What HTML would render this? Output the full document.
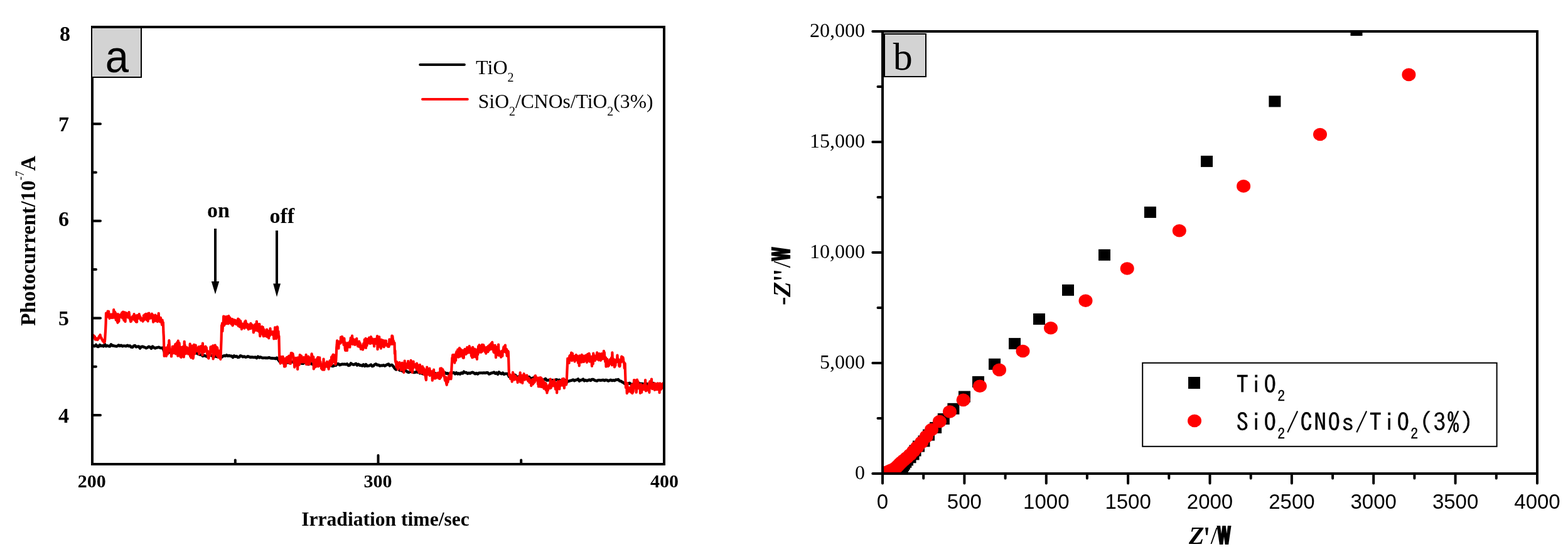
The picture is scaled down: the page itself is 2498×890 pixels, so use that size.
<!DOCTYPE html>
<html><head><meta charset="utf-8"><title>Photocurrent and EIS plots</title><style>
html,body{margin:0;padding:0;background:#fff;}
svg{display:block;}
.sb{font-family:"Liberation Serif",serif;font-weight:bold;}
.sr{font-family:"Liberation Serif",serif;}
.ss{font-family:"Liberation Sans",sans-serif;}
.ipa{font-family:"Liberation Sans","IPAGothic",sans-serif;}
</style></head><body>
<svg width="2498" height="890" viewBox="0 0 2498 890">
<rect width="2498" height="890" fill="#fff"/>
<!-- Panel A -->
<g>
<path d="M147 548.6 L148 549.8 L149 550.9 L150 551 L151 551.2 L152 550.1 L153 548.9 L154 550.3 L155 551.7 L156 551.9 L157 552 L158 550.6 L159 549.2 L160 550.1 L161 550.9 L162 550.6 L163 550.4 L164 550.9 L165 551.4 L166 549.8 L167 548.1 L168 549.7 L169 551.3 L170 550.8 L171 550.4 L172 550.7 L173 551.1 L174 551.2 L175 551.4 L176 549.9 L177 548.4 L178 549.4 L179 550.4 L180 550.4 L181 550.4 L182 550.7 L183 550.9 L184 551.1 L185 551.4 L186 551.2 L187 551 L188 550.2 L189 549.5 L190 550.2 L191 550.9 L192 550.3 L193 549.8 L194 550.5 L195 551.3 L196 550.9 L197 550.6 L198 550.7 L199 550.8 L200 551 L201 551.2 L202 550.5 L203 549.8 L204 550.5 L205 551.1 L206 550.8 L207 550.5 L208 551.5 L209 552.6 L210 552.8 L211 553 L212 551.9 L213 550.7 L214 550.4 L215 550.1 L216 551.3 L217 552.4 L218 552.1 L219 551.8 L220 551.7 L221 551.5 L222 553 L223 554.5 L224 553.4 L225 552.2 L226 551.9 L227 551.7 L228 552.1 L229 552.5 L230 552.8 L231 553.1 L232 553.7 L233 554.3 L234 553.8 L235 553.3 L236 552.6 L237 551.9 L238 552.3 L239 552.7 L240 553.7 L241 554.8 L242 553.2 L243 551.6 L244 552.4 L245 553.2 L246 553.8 L247 554.4 L248 554 L249 553.6 L250 553.4 L251 553.2 L252 553 L253 552.7 L254 553.2 L255 553.7 L256 553.9 L257 554.1 L258 553.9 L259 553.8 L260 555.2 L261 558.3 L262 560.4 L263 560.1 L264 560.6 L265 561.2 L266 560.7 L267 560.3 L268 560.7 L269 561.1 L270 560.6 L271 560.1 L272 561.1 L273 562.1 L274 562 L275 561.8 L276 561.6 L277 561.4 L278 560.7 L279 560 L280 560.6 L281 561.2 L282 559.8 L283 558.4 L284 559.5 L285 560.7 L286 560.9 L287 561.2 L288 560.7 L289 560.2 L290 560.7 L291 561.2 L292 561.4 L293 561.6 L294 562.1 L295 562.6 L296 561.8 L297 561 L298 560.3 L299 559.6 L300 559.2 L301 558.9 L302 559.9 L303 560.9 L304 561.3 L305 561.9 L306 562.3 L307 562.6 L308 562.4 L309 562.1 L310 562 L311 561.9 L312 562.1 L313 562.3 L314 562.8 L315 563.3 L316 563.6 L317 563.9 L318 564.4 L319 564.8 L320 564.8 L321 564.9 L322 565.9 L323 567 L324 566.4 L325 565.8 L326 566.2 L327 566.6 L328 567 L329 567.5 L330 567.7 L331 567.9 L332 567.2 L333 566.4 L334 566 L335 565.6 L336 565.7 L337 565.8 L338 566.6 L339 567.4 L340 567.5 L341 567.6 L342 567.4 L343 567.3 L344 567.5 L345 567.7 L346 568 L347 568.2 L348 567.2 L349 566.1 L350 567.5 L351 568.9 L352 568.9 L353 568.8 L354 567.9 L355 567.1 L356 566.7 L357 566.3 L358 566.6 L359 566.8 L360 566.1 L361 565.4 L362 566.1 L363 566.8 L364 566.5 L365 566.1 L366 566.5 L367 566.9 L368 566.8 L369 566.8 L370 567.9 L371 569 L372 567.8 L373 566.5 L374 567.1 L375 567.7 L376 567.4 L377 567.1 L378 568.1 L379 569 L380 568.8 L381 568.6 L382 567.5 L383 566.4 L384 566.7 L385 567 L386 567.6 L387 568.2 L388 567.9 L389 567.5 L390 568 L391 568.6 L392 568.5 L393 568.3 L394 567.9 L395 567.4 L396 567.8 L397 568.1 L398 568.5 L399 568.9 L400 568.7 L401 568.5 L402 568.6 L403 568.7 L404 568.9 L405 569 L406 568.8 L407 568.6 L408 569.3 L409 570 L410 568.9 L411 567.7 L412 568.5 L413 569.4 L414 568.9 L415 568.5 L416 569 L417 569.4 L418 569.7 L419 569.9 L420 569.8 L421 569.8 L422 569.8 L423 569.9 L424 569.9 L425 570 L426 569.9 L427 569.9 L428 569.5 L429 569.2 L430 569.7 L431 570.2 L432 570.3 L433 570.5 L434 570.4 L435 570.5 L436 570.5 L437 570.5 L438 570.8 L439 571.1 L440 570.4 L441 569.7 L442 570.9 L443 572.4 L444 573.7 L445 575 L446 576.1 L447 576.7 L448 576.9 L449 577 L450 576.6 L451 576.2 L452 575.7 L453 575.2 L454 576 L455 576.8 L456 577.1 L457 577.4 L458 577.4 L459 577.3 L460 576.7 L461 576.2 L462 576.1 L463 575.9 L464 576.1 L465 576.2 L466 576.2 L467 576.2 L468 577.2 L469 578.2 L470 578 L471 577.7 L472 578.7 L473 579.6 L474 579.4 L475 579.2 L476 579 L477 578.8 L478 578.1 L479 577.4 L480 578.1 L481 578.7 L482 578.7 L483 578.7 L484 577.9 L485 577.2 L486 577.3 L487 577.5 L488 577.8 L489 578.2 L490 579.2 L491 580.2 L492 579.5 L493 578.9 L494 578.5 L495 578.2 L496 579 L497 579.7 L498 580.1 L499 580.4 L500 579.7 L501 579 L502 580.5 L503 582 L504 580.9 L505 579.8 L506 580.7 L507 581.6 L508 581.6 L509 581.5 L510 580.9 L511 580.4 L512 580.8 L513 581.2 L514 581.3 L515 581.5 L516 581.4 L517 581.4 L518 582 L519 582.6 L520 582.4 L521 582.1 L522 581.4 L523 580.7 L524 581.7 L525 582.6 L526 582.1 L527 581.7 L528 582.2 L529 582.7 L530 583 L531 582.8 L532 582.2 L533 581.6 L534 581.7 L535 581.8 L536 580.8 L537 579.9 L538 579.3 L539 579.2 L540 580.2 L541 581.2 L542 580.9 L543 580.5 L544 580.1 L545 579.8 L546 579.9 L547 580 L548 579.9 L549 579.7 L550 580 L551 580.2 L552 579.8 L553 579.4 L554 580.7 L555 581.9 L556 581.7 L557 581.5 L558 580 L559 578.5 L560 579.1 L561 579.7 L562 580.2 L563 580.6 L564 580.4 L565 580.2 L566 579.5 L567 578.9 L568 580.2 L569 581.5 L570 580.7 L571 579.9 L572 580.7 L573 581.6 L574 581.6 L575 581.5 L576 582 L577 582.5 L578 581.5 L579 580.4 L580 581.7 L581 582.9 L582 581.6 L583 580.2 L584 581.5 L585 582.8 L586 582.6 L587 582.4 L588 582.2 L589 581.9 L590 581.3 L591 580.6 L592 581.9 L593 583.1 L594 582.8 L595 582.5 L596 581.4 L597 580.3 L598 579.9 L599 579.5 L600 580.3 L601 581.2 L602 581.1 L603 581 L604 581.7 L605 582.5 L606 582.2 L607 581.9 L608 582 L609 582.1 L610 581.7 L611 581.3 L612 582 L613 582.7 L614 582 L615 581.3 L616 580.9 L617 580.4 L618 580 L619 579.6 L620 581 L621 582.3 L622 581.8 L623 581.3 L624 581 L625 581.4 L626 582.6 L627 583.8 L628 585.2 L629 586.7 L630 587.7 L631 588.4 L632 587.3 L633 586.2 L634 587.2 L635 588.2 L636 588.9 L637 589.6 L638 589.7 L639 589.8 L640 590.2 L641 590.5 L642 591.2 L643 592 L644 590.9 L645 589.8 L646 590.1 L647 590.4 L648 591.3 L649 592.1 L650 592.5 L651 592.9 L652 592.4 L653 592 L654 591.8 L655 591.6 L656 591.4 L657 591.1 L658 592.1 L659 593 L660 593 L661 593 L662 592.5 L663 592 L664 592.3 L665 592.7 L666 592.6 L667 592.5 L668 593.4 L669 594.2 L670 593.9 L671 593.6 L672 594.3 L673 595 L674 595.1 L675 595.2 L676 594.8 L677 594.4 L678 594.8 L679 595.2 L680 595.2 L681 595.2 L682 595.5 L683 595.7 L684 594.9 L685 594 L686 594.6 L687 595.1 L688 595.7 L689 596.3 L690 595.8 L691 595.4 L692 594.9 L693 594.4 L694 594.7 L695 595 L696 595.9 L697 596.9 L698 595.6 L699 594.4 L700 594.3 L701 594.2 L702 594.9 L703 595.6 L704 595 L705 594.4 L706 593.9 L707 593.4 L708 593.4 L709 593.3 L710 594.1 L711 594.8 L712 594.5 L713 594.2 L714 595.1 L715 596 L716 595.1 L717 594.1 L718 593.7 L719 593.3 L720 593.5 L721 593.7 L722 593.5 L723 593.2 L724 594.2 L725 595.3 L726 594.4 L727 593.4 L728 594.4 L729 595.4 L730 594.9 L731 594.4 L732 595.1 L733 595.7 L734 594.7 L735 593.6 L736 594 L737 594.5 L738 593.2 L739 591.8 L740 592.6 L741 593.3 L742 593.2 L743 593.1 L744 594 L745 594.9 L746 594.3 L747 593.8 L748 594.1 L749 594.5 L750 593.9 L751 593.3 L752 593 L753 592.8 L754 593.4 L755 593.9 L756 594.6 L757 595.2 L758 594.6 L759 594 L760 594.8 L761 595.5 L762 594.7 L763 593.8 L764 593.8 L765 593.8 L766 593.8 L767 593.8 L768 593.8 L769 593.9 L770 593.7 L771 593.5 L772 593.7 L773 593.9 L774 593.6 L775 593.4 L776 593.3 L777 593.2 L778 594.3 L779 595.5 L780 595.2 L781 594.9 L782 594.4 L783 593.8 L784 593.7 L785 593.5 L786 593.1 L787 592.7 L788 593.6 L789 594.6 L790 594.1 L791 593.5 L792 594.7 L793 595.9 L794 594.2 L795 592.5 L796 593.5 L797 594.4 L798 594.8 L799 595.2 L800 594.4 L801 593.6 L802 594.8 L803 596 L804 595.5 L805 595 L806 595 L807 595 L808 595 L809 595.4 L810 597.6 L811 599.6 L812 599.6 L813 599.7 L814 599.3 L815 599 L816 599.8 L817 600.6 L818 600 L819 599.4 L820 598.3 L821 597.2 L822 598.4 L823 599.7 L824 600.4 L825 601.1 L826 600.1 L827 599.1 L828 599.8 L829 600.4 L830 599.9 L831 599.4 L832 599.8 L833 600.3 L834 599.2 L835 598.1 L836 598.6 L837 599.2 L838 600 L839 600.9 L840 600.9 L841 600.9 L842 600.5 L843 600 L844 601.3 L845 602.7 L846 602.6 L847 602.6 L848 602.2 L849 601.8 L850 601.4 L851 601 L852 602.4 L853 603.7 L854 603.3 L855 602.9 L856 603.6 L857 604.2 L858 604.5 L859 604.8 L860 604.2 L861 603.6 L862 603.8 L863 604 L864 604.5 L865 605.1 L866 604.7 L867 604.3 L868 603.6 L869 603 L870 604.2 L871 605.5 L872 605.5 L873 605.5 L874 605.2 L875 604.8 L876 605.4 L877 605.9 L878 605.6 L879 605.2 L880 605.2 L881 605.3 L882 605.9 L883 606.5 L884 605.5 L885 604.6 L886 604.5 L887 604.4 L888 605.2 L889 605.9 L890 605.4 L891 604.9 L892 606 L893 607 L894 606.3 L895 605.6 L896 605.2 L897 604.8 L898 605.7 L899 606.6 L900 606.1 L901 605.5 L902 607.5 L903 608.8 L904 607.8 L905 606.7 L906 606.7 L907 606.6 L908 606.2 L909 605.9 L910 605.7 L911 605.6 L912 605 L913 604.5 L914 605.3 L915 606.1 L916 605.6 L917 605.1 L918 604.9 L919 604.7 L920 604.1 L921 603.5 L922 605.1 L923 606.6 L924 605.9 L925 605.2 L926 605.1 L927 605 L928 604.4 L929 603.7 L930 605 L931 606.3 L932 605.8 L933 605.3 L934 605.8 L935 606.3 L936 605.9 L937 605.4 L938 605 L939 604.6 L940 605.3 L941 605.9 L942 605 L943 604 L944 604 L945 604 L946 604.7 L947 605.4 L948 605.7 L949 606.1 L950 606.3 L951 606.4 L952 605.9 L953 605.3 L954 605.3 L955 605.3 L956 605.5 L957 605.6 L958 605.4 L959 605.2 L960 605.1 L961 605 L962 605.4 L963 605.9 L964 605.4 L965 605 L966 605.1 L967 605.2 L968 605.9 L969 606.5 L970 606.1 L971 605.6 L972 605.3 L973 604.9 L974 605.5 L975 606 L976 605.7 L977 605.3 L978 605.7 L979 606 L980 605.3 L981 604.6 L982 604.7 L983 604.7 L984 604.4 L985 604.1 L986 605.3 L987 606.4 L988 606.6 L989 606.7 L990 607.4 L991 608.2 L992 608.6 L993 609.1 L994 609.8 L995 610.6 L996 610.4 L997 610.3 L998 610.7 L999 611.1 L1000 610.8 L1001 610.5 L1002 610.2 L1003 609.9 L1004 610.8 L1005 611.8 L1006 611.8 L1007 611.8 L1008 611.7 L1009 611.6 L1010 611.3 L1011 611.1 L1012 611 L1013 610.9 L1014 611.2 L1015 611.5 L1016 611.6 L1017 611.7 L1018 611.1 L1019 610.5 L1020 610.9 L1021 611.2 L1022 611 L1023 610.8 L1024 611.8 L1025 612.8 L1026 611.7 L1027 610.6 L1028 610.7 L1029 610.8 L1030 611 L1031 611.2 L1032 611.7 L1033 612.2 L1034 611.8 L1035 611.3 L1036 612.6 L1037 613.8 L1038 613.4 L1039 613 L1040 611.6 L1041 610.2 L1042 611.4 L1043 612.7 L1044 612.8 L1045 612.9 L1046 612.2 L1047 611.5 L1048 612 L1049 612.6 L1050 612.7 L1051 612.8 L1052 612.6 L1053 612.3 L1054 612.5 L1055 612.8 L1056 613.1 L1057 613.3" fill="none" stroke="#000" stroke-width="4.6" stroke-linejoin="round"/>
<path d="M147 533 L147.4 534.7 L147.9 534.9 L148.3 533.5 L148.8 534.1 L149.2 534.3 L149.7 535.7 L150.1 535.7 L150.6 537.5 L151 535.9 L151.5 540.3 L151.9 539.6 L152.4 540.5 L152.8 538.2 L153.3 539.5 L153.7 540.3 L154.2 540.8 L154.6 539.9 L155.1 540.1 L155.5 541 L156 539.6 L156.4 538.2 L156.9 539.4 L157.3 537.6 L157.8 535.6 L158.2 536 L158.7 535.7 L159.1 534.2 L159.6 533.2 L160 535.7 L160.5 537.5 L160.9 537.3 L161.4 537.5 L161.8 539.4 L162.3 540.4 L162.7 540.1 L163.2 541.6 L163.6 542.8 L164.1 542.3 L164.5 542.4 L165 544 L165.4 544.2 L165.9 545.4 L166.3 543.3 L166.8 544.2 L167.2 540.6 L167.7 531.9 L168.1 526 L168.6 514.6 L169 498.7 L169.5 506.1 L169.9 503.9 L170.4 502.9 L170.8 501.9 L171.3 503.7 L171.7 495.7 L172.2 503.3 L172.6 503.8 L173.1 495.9 L173.5 504.1 L174 502.6 L174.4 506.9 L174.9 503.1 L175.3 504.5 L175.8 505.4 L176.2 500.7 L176.7 505.7 L177.1 502.8 L177.6 504.6 L178 500.6 L178.5 506 L178.9 503.7 L179.4 500.3 L179.8 502.7 L180.3 504.4 L180.7 505.7 L181.2 493.1 L181.6 501.3 L182.1 499.6 L182.5 498.8 L183 496.6 L183.4 505.9 L183.9 498 L184.3 505.7 L184.8 509.5 L185.2 500.2 L185.7 505.5 L186.1 501.8 L186.6 507.4 L187 512 L187.5 513.8 L187.9 500.1 L188.4 504.4 L188.8 509 L189.3 511.8 L189.7 507.2 L190.2 502.6 L190.6 505.9 L191.1 504.3 L191.5 503.2 L192 500.9 L192.4 504.5 L192.9 504 L193.3 502.4 L193.8 501.8 L194.2 497.8 L194.7 501.4 L195.1 506.5 L195.6 501.3 L196 496.7 L196.5 506.8 L196.9 504 L197.4 509.8 L197.8 502.6 L198.3 500.8 L198.7 497.4 L199.2 507.5 L199.6 512 L200.1 499.4 L200.5 499.7 L201 501.7 L201.4 498.4 L201.9 500 L202.3 499.4 L202.8 501 L203.2 504.6 L203.7 501.5 L204.1 505.6 L204.6 501.6 L205 505.2 L205.5 497.1 L205.9 500.4 L206.4 503.2 L206.8 504.7 L207.3 509.1 L207.7 509.1 L208.2 512.1 L208.6 510.5 L209.1 511.4 L209.5 507.5 L210 505.6 L210.4 505.4 L210.9 506.1 L211.3 503.7 L211.8 505.7 L212.2 507.2 L212.7 508.3 L213.1 506.1 L213.6 500.2 L214 506.6 L214.5 507.4 L214.9 510.1 L215.4 508 L215.8 503.3 L216.3 502.7 L216.7 512.3 L217.2 507.6 L217.6 511.5 L218.1 512.6 L218.5 502 L219 506.4 L219.4 506.7 L219.9 507.1 L220.3 507 L220.8 505.9 L221.2 506 L221.7 500.1 L222.1 505.1 L222.6 503.1 L223 506.4 L223.5 504.4 L223.9 508.5 L224.4 509.7 L224.8 508.4 L225.3 508.9 L225.7 508.7 L226.2 507.2 L226.6 508.8 L227.1 508.1 L227.5 511.6 L228 509.3 L228.4 510.3 L228.9 502.4 L229.3 509.4 L229.8 502.4 L230.2 501.5 L230.7 502.5 L231.1 500.6 L231.6 504.1 L232 501.3 L232.5 499.9 L232.9 501.1 L233.4 509.2 L233.8 505.1 L234.3 501.1 L234.7 505.4 L235.2 499.5 L235.6 511.3 L236.1 499.2 L236.5 506.1 L237 506.2 L237.4 498.7 L237.9 504.8 L238.3 507.2 L238.8 505.1 L239.2 504.2 L239.7 506.5 L240.1 503.5 L240.6 504 L241 502.1 L241.5 504.7 L241.9 499.7 L242.4 506.7 L242.8 502.7 L243.3 501.3 L243.7 507.2 L244.2 512.7 L244.6 510.8 L245.1 506.1 L245.5 510.8 L246 507.1 L246.4 508.7 L246.9 509.8 L247.3 501.5 L247.8 510.9 L248.2 506.9 L248.7 508 L249.1 505.6 L249.6 503.3 L250 504.5 L250.5 510 L250.9 512.2 L251.4 505.2 L251.8 508.4 L252.3 503.8 L252.7 498.8 L253.2 507.1 L253.6 509.1 L254.1 506.9 L254.5 510.4 L255 512.3 L255.4 508.1 L255.9 505.9 L256.3 510.4 L256.8 510.4 L257.2 509.8 L257.7 514.6 L258.1 517.2 L258.6 509.5 L259 513.5 L259.5 514.3 L259.9 513.5 L260.4 529 L260.8 535.3 L261.3 554.5 L261.7 566.9 L262.2 560.7 L262.6 553.6 L263.1 560.3 L263.5 564.1 L264 560.1 L264.4 557.2 L264.9 567 L265.3 553.6 L265.8 562.9 L266.2 559.9 L266.7 552.8 L267.1 563.7 L267.6 558.2 L268 549.4 L268.5 557.1 L268.9 550.8 L269.4 542.2 L269.8 549.1 L270.3 555.1 L270.7 558.3 L271.2 557.3 L271.6 558 L272.1 561.4 L272.5 559.4 L273 567.5 L273.4 561.3 L273.9 560.9 L274.3 561 L274.8 551.9 L275.2 552.5 L275.7 562.5 L276.1 555.4 L276.6 551.5 L277 555.2 L277.5 551.6 L277.9 555.9 L278.4 551.7 L278.8 556.9 L279.3 548.2 L279.7 563.3 L280.2 553.8 L280.6 547.4 L281.1 553 L281.5 551.1 L282 552.6 L282.4 545 L282.9 551.6 L283.3 566.6 L283.8 542.7 L284.2 552.4 L284.7 550.7 L285.1 554.7 L285.6 546.2 L286 551.1 L286.5 560.7 L286.9 559.7 L287.4 567.8 L287.8 555.7 L288.3 559.6 L288.7 569 L289.2 553.9 L289.6 552.8 L290.1 556.7 L290.5 556.2 L291 560.3 L291.4 556.5 L291.9 551.8 L292.3 556.4 L292.8 568.3 L293.2 561.2 L293.7 543.9 L294.1 553.6 L294.6 549.7 L295 557 L295.5 552.8 L295.9 563.2 L296.4 558 L296.8 557.6 L297.3 553.9 L297.7 553.1 L298.2 555.8 L298.6 561.4 L299.1 558.4 L299.5 554.7 L300 563.6 L300.4 559 L300.9 558.4 L301.3 555.5 L301.8 557.3 L302.2 557.7 L302.7 547.6 L303.1 567.3 L303.6 565.7 L304 562.5 L304.5 569.5 L304.9 566 L305.4 565.3 L305.8 550.6 L306.3 561.4 L306.7 564.8 L307.2 569.7 L307.6 570.5 L308.1 568 L308.5 554.5 L309 548.9 L309.4 562.3 L309.9 559.1 L310.3 563.3 L310.8 557.4 L311.2 558.6 L311.7 549.7 L312.1 559.2 L312.6 554.5 L313 558.3 L313.5 558.6 L313.9 555.5 L314.4 557.5 L314.8 555.6 L315.3 559.3 L315.7 557.9 L316.2 552.5 L316.6 552.2 L317.1 563.7 L317.5 554.4 L318 559.7 L318.4 556.6 L318.9 552.2 L319.3 551.7 L319.8 556.5 L320.2 557.6 L320.7 559.8 L321.1 550.8 L321.6 554.6 L322 557.4 L322.5 565.1 L322.9 546.5 L323.4 557.8 L323.8 552.2 L324.3 556.3 L324.7 553.8 L325.2 554.5 L325.6 560.3 L326.1 554.9 L326.5 556 L327 556.4 L327.4 551.5 L327.9 558.7 L328.3 555.7 L328.8 553.4 L329.2 558 L329.7 557.9 L330.1 563.7 L330.6 560.5 L331 559 L331.5 569.7 L331.9 568.3 L332.4 570.5 L332.8 566.9 L333.3 562.6 L333.7 560.4 L334.2 560.4 L334.6 565.9 L335.1 561 L335.5 552.4 L336 558.9 L336.4 552 L336.9 559.9 L337.3 553 L337.8 556.4 L338.2 559.5 L338.7 558.4 L339.1 550.4 L339.6 571.5 L340 569.2 L340.5 550.7 L340.9 567 L341.4 554.2 L341.8 554.9 L342.3 556.2 L342.7 549.6 L343.2 563.5 L343.6 560.3 L344.1 554.8 L344.5 557.9 L345 552.5 L345.4 559.1 L345.9 566.3 L346.3 553.8 L346.8 560.4 L347.2 563.3 L347.7 567.7 L348.1 569.2 L348.6 560.1 L349 558.6 L349.5 564.6 L349.9 560.4 L350.4 559.9 L350.8 568.5 L351.3 572 L351.7 565.4 L352.2 550.9 L352.6 540.9 L353.1 518.1 L353.5 519.8 L354 514.6 L354.4 527.3 L354.9 519.6 L355.3 516.2 L355.8 513.8 L356.2 503.5 L356.7 515.3 L357.1 518.2 L357.6 508.5 L358 513.8 L358.5 513.7 L358.9 504.4 L359.4 514 L359.8 515.4 L360.3 510.7 L360.7 509.5 L361.2 513.2 L361.6 504.1 L362.1 510.9 L362.5 515 L363 506.1 L363.4 515.3 L363.9 509.9 L364.3 503.1 L364.8 510.8 L365.2 507 L365.7 511.9 L366.1 505.7 L366.6 514.3 L367 506.9 L367.5 511 L367.9 507.8 L368.4 509.5 L368.8 516.1 L369.3 512.8 L369.7 510.9 L370.2 508.1 L370.6 518.3 L371.1 517 L371.5 512.6 L372 514.7 L372.4 509.5 L372.9 509.4 L373.3 510 L373.8 514.6 L374.2 514.2 L374.7 509.9 L375.1 515.6 L375.6 515.7 L376 513 L376.5 516.3 L376.9 510.9 L377.4 511.4 L377.8 513.6 L378.3 511.7 L378.7 515.5 L379.2 507.7 L379.6 518.8 L380.1 510.4 L380.5 513.2 L381 508.8 L381.4 517.2 L381.9 520.5 L382.3 520.3 L382.8 520 L383.2 511 L383.7 514.7 L384.1 516.6 L384.6 515.3 L385 524.1 L385.5 520.3 L385.9 519.5 L386.4 521.5 L386.8 515.7 L387.3 515.9 L387.7 516 L388.2 521.5 L388.6 520.7 L389.1 521.1 L389.5 522.6 L390 512.4 L390.4 515.1 L390.9 517.4 L391.3 510.9 L391.8 513.7 L392.2 519.9 L392.7 520.7 L393.1 521 L393.6 517.3 L394 516 L394.5 522.3 L394.9 516.9 L395.4 520.2 L395.8 524.4 L396.3 517.9 L396.7 517.2 L397.2 519.8 L397.6 522.5 L398.1 522.3 L398.5 521.2 L399 523.1 L399.4 514.8 L399.9 518 L400.3 522.4 L400.8 518.3 L401.2 517 L401.7 517.9 L402.1 519.4 L402.6 522.6 L403 519 L403.5 523.7 L403.9 529.3 L404.4 521.7 L404.8 527.1 L405.3 526.7 L405.7 517 L406.2 520.2 L406.6 517.1 L407.1 523.9 L407.5 516 L408 525.7 L408.4 522.5 L408.9 511.8 L409.3 522.8 L409.8 526.5 L410.2 518.1 L410.7 526.1 L411.1 516 L411.6 525.1 L412 518.4 L412.5 528 L412.9 519.9 L413.4 516.2 L413.8 528 L414.3 535.1 L414.7 523.2 L415.2 528.5 L415.6 525.2 L416.1 523.1 L416.5 526.5 L417 531.1 L417.4 520.1 L417.9 527.8 L418.3 527.4 L418.8 520.8 L419.2 533.5 L419.7 535.3 L420.1 524.1 L420.6 535.1 L421 528.7 L421.5 528 L421.9 534.7 L422.4 529.7 L422.8 530.1 L423.3 535 L423.7 534.4 L424.2 533.4 L424.6 524.8 L425.1 524.7 L425.5 536.1 L426 528.5 L426.4 533.3 L426.9 529 L427.3 532.2 L427.8 527.2 L428.2 538.3 L428.7 527 L429.1 530 L429.6 529.1 L430 534.1 L430.5 523 L430.9 528.9 L431.4 528.5 L431.8 531.7 L432.3 531.8 L432.7 528.4 L433.2 531.6 L433.6 529.4 L434.1 533 L434.5 530.6 L435 528.2 L435.4 530.6 L435.9 532 L436.3 539.5 L436.8 528.3 L437.2 531.3 L437.7 535.8 L438.1 521.4 L438.6 522.8 L439 524.8 L439.5 529 L439.9 539.1 L440.4 530.8 L440.8 533.9 L441.3 528.6 L441.7 520.3 L442.2 521.5 L442.6 535.5 L443.1 532.8 L443.5 527.5 L444 537.8 L444.4 535.1 L444.9 558.5 L445.3 573 L445.8 573 L446.2 570.9 L446.7 578.6 L447.1 569.6 L447.6 577.4 L448 568 L448.5 577.1 L448.9 574.5 L449.4 572.7 L449.8 571.1 L450.3 576.5 L450.7 567.8 L451.2 575.2 L451.6 575 L452.1 579.5 L452.5 571.1 L453 583.7 L453.4 574.9 L453.9 571.3 L454.3 582.1 L454.8 583.2 L455.2 574.6 L455.7 570.5 L456.1 573.3 L456.6 569.2 L457 569.8 L457.5 576.8 L457.9 570.7 L458.4 568.6 L458.8 569.3 L459.3 567.6 L459.7 571.6 L460.2 571.9 L460.6 566.6 L461.1 568.7 L461.5 578.7 L462 570.3 L462.4 566.9 L462.9 578.9 L463.3 566.3 L463.8 562 L464.2 567.6 L464.7 562 L465.1 562 L465.6 564.4 L466 564.2 L466.5 563.2 L466.9 565.8 L467.4 567.3 L467.8 576.6 L468.3 570.2 L468.7 572.6 L469.2 584.7 L469.6 573.6 L470.1 582.4 L470.5 581.6 L471 575.2 L471.4 569.8 L471.9 577.8 L472.3 578.7 L472.8 579.7 L473.2 575.5 L473.7 579.9 L474.1 587.9 L474.6 569.4 L475 579.7 L475.5 573.9 L475.9 570.3 L476.4 571.3 L476.8 580.8 L477.3 576.9 L477.7 565 L478.2 573 L478.6 572.1 L479.1 571.9 L479.5 570.5 L480 566.5 L480.4 576.6 L480.9 568.9 L481.3 571.5 L481.8 570.6 L482.2 570.1 L482.7 576.5 L483.1 575 L483.6 570.3 L484 569 L484.5 570.8 L484.9 576.9 L485.4 573.1 L485.8 573.4 L486.3 570.8 L486.7 571.2 L487.2 573.5 L487.6 564.9 L488.1 580.1 L488.5 570.1 L489 571.3 L489.4 579.8 L489.9 575.3 L490.3 574.5 L490.8 571.8 L491.2 567.6 L491.7 575.1 L492.1 579.5 L492.6 570.5 L493 580.2 L493.5 569.5 L493.9 570.7 L494.4 575.6 L494.8 573 L495.3 570.5 L495.7 569 L496.2 567.3 L496.6 563.3 L497.1 566 L497.5 567.7 L498 567.4 L498.4 576 L498.9 572.9 L499.3 568.4 L499.8 587.5 L500.2 575.6 L500.7 574.4 L501.1 585 L501.6 584.5 L502 574.4 L502.5 572.8 L502.9 574.7 L503.4 583.6 L503.8 577.3 L504.3 574.6 L504.7 577.3 L505.2 581.9 L505.6 570.1 L506.1 573.8 L506.5 568.8 L507 583.4 L507.4 581.2 L507.9 578.3 L508.3 575.3 L508.8 580 L509.2 569.4 L509.7 581 L510.1 575.3 L510.6 576.7 L511 580.6 L511.5 582.3 L511.9 586.4 L512.4 587.1 L512.8 585.4 L513.3 582.9 L513.7 588.5 L514.2 584.3 L514.6 588.6 L515.1 580.2 L515.5 571.7 L516 581 L516.4 588.7 L516.9 583.9 L517.3 580.5 L517.8 584.6 L518.2 582.7 L518.7 582.5 L519.1 578.3 L519.6 580.9 L520 581.4 L520.5 577.8 L520.9 575.8 L521.4 581.2 L521.8 584.1 L522.3 581.9 L522.7 580.3 L523.2 579.5 L523.6 587.6 L524.1 576.8 L524.5 579.3 L525 582.4 L525.4 574.3 L525.9 575.4 L526.3 578.9 L526.8 581.9 L527.2 576.1 L527.7 576.5 L528.1 568.3 L528.6 569.9 L529 579.3 L529.5 572.8 L529.9 565.9 L530.4 572.1 L530.8 564.7 L531.3 567.2 L531.7 571 L532.2 566.9 L532.6 576.1 L533.1 565.7 L533.5 573.8 L534 575.7 L534.4 580.2 L534.9 578.5 L535.3 572.8 L535.8 562.9 L536.2 553.2 L536.7 548.3 L537.1 542.3 L537.6 547.3 L538 545.7 L538.5 547.5 L538.9 546.3 L539.4 554.7 L539.8 543.8 L540.3 546.6 L540.7 546.2 L541.2 546.8 L541.6 545.7 L542.1 545 L542.5 546.5 L543 536.8 L543.4 541.9 L543.9 536.8 L544.3 541.7 L544.8 536 L545.2 536.3 L545.7 539.1 L546.1 544.6 L546.6 543 L547 543.4 L547.5 548.9 L547.9 541.7 L548.4 538.9 L548.8 546.5 L549.3 548.4 L549.7 554.8 L550.2 557.9 L550.6 545.7 L551.1 557.9 L551.5 556.7 L552 554.2 L552.4 552.7 L552.9 558 L553.3 551.7 L553.8 549.5 L554.2 551.6 L554.7 545.9 L555.1 552.5 L555.6 550.2 L556 551.7 L556.5 551.6 L556.9 545.1 L557.4 552.6 L557.8 542.7 L558.3 548.5 L558.7 538 L559.2 544 L559.6 538.3 L560.1 540.8 L560.5 539.3 L561 534.7 L561.4 539.7 L561.9 545.1 L562.3 548.2 L562.8 541.6 L563.2 540.2 L563.7 545.1 L564.1 546.9 L564.6 544.7 L565 543.4 L565.5 548.9 L565.9 548.7 L566.4 547.2 L566.8 540.3 L567.3 544.1 L567.7 543.4 L568.2 539.2 L568.6 548.1 L569.1 545.5 L569.5 543.8 L570 551.2 L570.4 549.1 L570.9 549.8 L571.3 551.5 L571.8 550.1 L572.2 543.5 L572.7 546.9 L573.1 552.4 L573.6 546.3 L574 547.5 L574.5 551.4 L574.9 555.7 L575.4 555.6 L575.8 554.5 L576.3 550.9 L576.7 555.4 L577.2 554.4 L577.6 551.8 L578.1 556.6 L578.5 552.5 L579 547 L579.4 553.6 L579.9 547.1 L580.3 549.4 L580.8 540.6 L581.2 545.8 L581.7 542.4 L582.1 542.4 L582.6 538.9 L583 554 L583.5 545.6 L583.9 547.1 L584.4 550.3 L584.8 545.5 L585.3 547.4 L585.7 540 L586.2 545.3 L586.6 541.6 L587.1 545.5 L587.5 543.9 L588 537.6 L588.4 540.2 L588.9 540 L589.3 546.9 L589.8 546.3 L590.2 546.7 L590.7 538.2 L591.1 536.2 L591.6 544.1 L592 544.7 L592.5 543.2 L592.9 546.3 L593.4 543.9 L593.8 539.6 L594.3 540.3 L594.7 543.6 L595.2 543.1 L595.6 542.7 L596.1 551.5 L596.5 543.4 L597 543.9 L597.4 539.9 L597.9 542.5 L598.3 545.9 L598.8 546.5 L599.2 544.4 L599.7 547 L600.1 546.2 L600.6 539.6 L601 535 L601.5 556.2 L601.9 551.3 L602.4 547.7 L602.8 541.2 L603.3 542.6 L603.7 552 L604.2 536.3 L604.6 545.1 L605.1 549.2 L605.5 546.2 L606 548.5 L606.4 545.3 L606.9 554.7 L607.3 542.1 L607.8 540.9 L608.2 547 L608.7 551.4 L609.1 545.9 L609.6 550.1 L610 544.3 L610.5 542 L610.9 551.6 L611.4 552.3 L611.8 552.3 L612.3 545 L612.7 542.5 L613.2 542.7 L613.6 546.4 L614.1 549.7 L614.5 549.6 L615 542.6 L615.4 548.9 L615.9 548.5 L616.3 549 L616.8 548.8 L617.2 548.4 L617.7 551.6 L618.1 550.2 L618.6 550.8 L619 547.6 L619.5 551.9 L619.9 548.9 L620.4 540.4 L620.8 549 L621.3 545.1 L621.7 548.4 L622.2 543.3 L622.6 542.5 L623.1 542.7 L623.5 541.7 L624 539.9 L624.4 534.7 L624.9 548 L625.3 535.2 L625.8 539.6 L626.2 543.1 L626.7 542.3 L627.1 544 L627.6 545.6 L628 548.4 L628.5 545.7 L628.9 563.3 L629.4 558.4 L629.8 573.6 L630.3 576.7 L630.7 576.1 L631.2 579.7 L631.6 584.7 L632.1 576.1 L632.5 576.3 L633 582.4 L633.4 581.8 L633.9 588.1 L634.3 584.7 L634.8 581.9 L635.2 580.1 L635.7 581.8 L636.1 581.6 L636.6 577.2 L637 583.2 L637.5 582.3 L637.9 581.9 L638.4 580.9 L638.8 589.5 L639.3 585.2 L639.7 586 L640.2 579.5 L640.6 577.9 L641.1 581.5 L641.5 584.3 L642 582.4 L642.4 583.7 L642.9 588.9 L643.3 592.9 L643.8 582.1 L644.2 584.4 L644.7 574.5 L645.1 586 L645.6 580 L646 583.6 L646.5 586.7 L646.9 583.6 L647.4 579.3 L647.8 580.1 L648.3 582.7 L648.7 583.7 L649.2 584.8 L649.6 580.3 L650.1 575.1 L650.5 586 L651 580.9 L651.4 582.3 L651.9 582.8 L652.3 578.2 L652.8 582 L653.2 585.3 L653.7 589.4 L654.1 586.3 L654.6 573.8 L655 584.9 L655.5 586.5 L655.9 589.6 L656.4 587.2 L656.8 593 L657.3 587.9 L657.7 586.8 L658.2 584.8 L658.6 575.5 L659.1 584.9 L659.5 584.1 L660 579.7 L660.4 584.5 L660.9 584 L661.3 580.7 L661.8 582.6 L662.2 582.6 L662.7 585.3 L663.1 583.3 L663.6 587.9 L664 578.5 L664.5 585.8 L664.9 580.7 L665.4 585.6 L665.8 589.5 L666.3 587.3 L666.7 586.6 L667.2 587.1 L667.6 593.1 L668.1 581.9 L668.5 590 L669 580.9 L669.4 586 L669.9 589.3 L670.3 586 L670.8 591.1 L671.2 594 L671.7 586.9 L672.1 591.8 L672.6 590.2 L673 583.3 L673.5 590.1 L673.9 587.2 L674.4 587.5 L674.8 586 L675.3 596.2 L675.7 587.5 L676.2 592.1 L676.6 594.4 L677.1 595.3 L677.5 598 L678 599.7 L678.4 603 L678.9 605 L679.3 596.4 L679.8 591.6 L680.2 584.6 L680.7 592.8 L681.1 596.3 L681.6 593.6 L682 591.4 L682.5 588.3 L682.9 588.2 L683.4 590.6 L683.8 594.4 L684.3 586.6 L684.7 597.9 L685.2 589.9 L685.6 596.3 L686.1 595.1 L686.5 595.8 L687 592.7 L687.4 591.9 L687.9 595.3 L688.3 591.4 L688.8 605.6 L689.2 593.5 L689.7 592.8 L690.1 594.3 L690.6 593.3 L691 588.7 L691.5 598.7 L691.9 602 L692.4 595.5 L692.8 602.6 L693.3 597.4 L693.7 601.3 L694.2 602.1 L694.6 601.7 L695.1 600.6 L695.5 595.1 L696 600.7 L696.4 594.3 L696.9 598.1 L697.3 600.3 L697.8 596.9 L698.2 593.6 L698.7 602.1 L699.1 595.7 L699.6 597.3 L700 596.9 L700.5 603 L700.9 597.1 L701.4 586.7 L701.8 597.2 L702.3 600.8 L702.7 597.9 L703.2 586.4 L703.6 588.3 L704.1 591.3 L704.5 594.1 L705 591.8 L705.4 588.4 L705.9 597.2 L706.3 597.8 L706.8 591.1 L707.2 596.2 L707.7 600 L708.1 600.1 L708.6 603.5 L709 605.8 L709.5 606 L709.9 604.5 L710.4 600.7 L710.8 608.5 L711.3 611.1 L711.7 612.8 L712.2 603.9 L712.6 603.3 L713.1 608.8 L713.5 608.1 L714 602.9 L714.4 604.4 L714.9 598.3 L715.3 603.8 L715.8 598 L716.2 600.7 L716.7 600.8 L717.1 599.3 L717.6 593.1 L718 598.3 L718.5 603.4 L718.9 598.6 L719.4 586.8 L719.8 579.4 L720.3 569.9 L720.7 570.8 L721.2 565.1 L721.6 568.8 L722.1 568.1 L722.5 566.7 L723 565.1 L723.4 570.9 L723.9 568.6 L724.3 577.7 L724.8 571.3 L725.2 569.3 L725.7 567.1 L726.1 574 L726.6 562 L727 563.4 L727.5 559.6 L727.9 560.4 L728.4 560.9 L728.8 565.5 L729.3 556.6 L729.7 562.2 L730.2 568.7 L730.6 561.2 L731.1 562.9 L731.5 560.6 L732 554 L732.4 563.1 L732.9 567.6 L733.3 561.4 L733.8 556.1 L734.2 563.7 L734.7 562.8 L735.1 566.2 L735.6 566.4 L736 562.5 L736.5 565.5 L736.9 557.9 L737.4 569.1 L737.8 566.2 L738.3 570 L738.7 569.8 L739.2 564.2 L739.6 564.1 L740.1 560.8 L740.5 555.8 L741 562.3 L741.4 562.8 L741.9 557.6 L742.3 563.8 L742.8 561.2 L743.2 562.1 L743.7 557.2 L744.1 553.1 L744.6 562.2 L745 561.2 L745.5 558.1 L745.9 557 L746.4 557.5 L746.8 558.1 L747.3 556.7 L747.7 551.2 L748.2 561.5 L748.6 553.1 L749.1 557.6 L749.5 558.6 L750 561.7 L750.4 555.5 L750.9 566.7 L751.3 565.5 L751.8 566.7 L752.2 569.3 L752.7 561.9 L753.1 552.9 L753.6 565.4 L754 568.6 L754.5 567.7 L754.9 561.1 L755.4 562.4 L755.8 563.4 L756.3 555.6 L756.7 560 L757.2 560.2 L757.6 568.5 L758.1 560.4 L758.5 568.7 L759 563.1 L759.4 556.9 L759.9 571.9 L760.3 557.2 L760.8 561.9 L761.2 564.7 L761.7 555.2 L762.1 551.4 L762.6 558.6 L763 561.1 L763.5 549.3 L763.9 550 L764.4 555.7 L764.8 557.8 L765.3 553.4 L765.7 557 L766.2 560.8 L766.6 559.5 L767.1 560.2 L767.5 559.4 L768 548.9 L768.4 559.4 L768.9 556.1 L769.3 554.4 L769.8 550.8 L770.2 549.2 L770.7 551.4 L771.1 555.9 L771.6 552.1 L772 553.9 L772.5 555.1 L772.9 560.3 L773.4 557.2 L773.8 557.6 L774.3 562.7 L774.7 556.3 L775.2 559.4 L775.6 552.9 L776.1 557.7 L776.5 556.6 L777 556.5 L777.4 560.1 L777.9 551.2 L778.3 553.5 L778.8 552.5 L779.2 557.6 L779.7 557 L780.1 549 L780.6 555.6 L781 551.3 L781.5 554.5 L781.9 550.8 L782.4 546.9 L782.8 555.8 L783.3 553.5 L783.7 547.1 L784.2 544.8 L784.6 550.4 L785.1 548.7 L785.5 552.3 L786 556.6 L786.4 560.4 L786.9 554.2 L787.3 561.3 L787.8 560.6 L788.2 554.5 L788.7 549.8 L789.1 559 L789.6 557.9 L790 569.2 L790.5 560.6 L790.9 558 L791.4 562 L791.8 552.6 L792.3 557.9 L792.7 556.9 L793.2 565 L793.6 561.4 L794.1 548.7 L794.5 565.8 L795 557.8 L795.4 564.5 L795.9 560.4 L796.3 563.5 L796.8 565.3 L797.2 564 L797.7 560.1 L798.1 568.7 L798.6 564.3 L799 562 L799.5 563.9 L799.9 558.6 L800.4 566.8 L800.8 559.9 L801.3 559.7 L801.7 559 L802.2 553.8 L802.6 552.2 L803.1 556.8 L803.5 556.7 L804 559.8 L804.4 555.9 L804.9 549.6 L805.3 556.6 L805.8 559.2 L806.2 561.3 L806.7 560.3 L807.1 556 L807.6 566.3 L808 560.8 L808.5 567.2 L808.9 558.5 L809.4 566.4 L809.8 559.9 L810.3 575.1 L810.7 589.2 L811.2 598 L811.6 595.7 L812.1 596.1 L812.5 596.5 L813 602.9 L813.4 601.7 L813.9 601 L814.3 601.8 L814.8 603 L815.2 603.4 L815.7 607.6 L816.1 600.4 L816.6 601.4 L817 592.9 L817.5 595.1 L817.9 597.6 L818.4 595.5 L818.8 601.2 L819.3 604.6 L819.7 598.7 L820.2 598.7 L820.6 598.7 L821.1 601.5 L821.5 598.9 L822 603 L822.4 602.6 L822.9 602.9 L823.3 604.7 L823.8 601.8 L824.2 602.3 L824.7 609 L825.1 601.7 L825.6 605.2 L826 602.3 L826.5 600.4 L826.9 600.6 L827.4 599.3 L827.8 602.9 L828.3 600.6 L828.7 593.4 L829.2 608.4 L829.6 602.8 L830.1 607.3 L830.5 603 L831 604.7 L831.4 597.9 L831.9 600.3 L832.3 609.8 L832.8 601.7 L833.2 602.4 L833.7 599.7 L834.1 602.8 L834.6 595 L835 596.7 L835.5 602.5 L835.9 604.6 L836.4 600 L836.8 601.4 L837.3 601.1 L837.7 602.2 L838.2 598.5 L838.6 597.9 L839.1 603.9 L839.5 597.5 L840 601 L840.4 602.6 L840.9 601.2 L841.3 606.7 L841.8 604.1 L842.2 605.9 L842.7 602.3 L843.1 603.6 L843.6 609 L844 608.5 L844.5 605.2 L844.9 608.8 L845.4 608.2 L845.8 608.2 L846.3 614.2 L846.7 606.2 L847.2 609.7 L847.6 610 L848.1 607.5 L848.5 603.9 L849 611.7 L849.4 610.2 L849.9 609.6 L850.3 609.7 L850.8 609.1 L851.2 604.4 L851.7 608.3 L852.1 598.8 L852.6 605.1 L853 598.1 L853.5 601.8 L853.9 605.1 L854.4 601.5 L854.8 601.1 L855.3 605.6 L855.7 602.9 L856.2 602.8 L856.6 603.4 L857.1 611.7 L857.5 608.7 L858 615.5 L858.4 601.5 L858.9 609.2 L859.3 601.6 L859.8 609.1 L860.2 602.7 L860.7 615.6 L861.1 601 L861.6 613.3 L862 612.1 L862.5 602 L862.9 608.7 L863.4 616.1 L863.8 615.3 L864.3 604.3 L864.7 609.2 L865.2 606.4 L865.6 607 L866.1 608.5 L866.5 618.6 L867 611.5 L867.4 610 L867.9 609.5 L868.3 614.4 L868.8 615.6 L869.2 610.2 L869.7 621.1 L870.1 611.7 L870.6 616.2 L871 620.3 L871.5 625.5 L871.9 617.1 L872.4 618.7 L872.8 621.8 L873.3 618 L873.7 619 L874.2 617.6 L874.6 613.4 L875.1 614 L875.5 615.2 L876 611.4 L876.4 618.1 L876.9 603.5 L877.3 607.9 L877.8 617.6 L878.2 613.5 L878.7 608.8 L879.1 612.4 L879.6 614.7 L880 607.3 L880.5 612.1 L880.9 607.8 L881.4 607.2 L881.8 606.7 L882.3 612.4 L882.7 604.8 L883.2 609.5 L883.6 615.3 L884.1 609.2 L884.5 609.3 L885 619.7 L885.4 618.9 L885.9 617.7 L886.3 618.1 L886.8 612.7 L887.2 625.5 L887.7 610.9 L888.1 612.3 L888.6 607.4 L889 610.8 L889.5 618.6 L889.9 612.3 L890.4 614.6 L890.8 610 L891.3 619.3 L891.7 612.4 L892.2 606.5 L892.6 614.6 L893.1 609.7 L893.5 613.4 L894 611.2 L894.4 611.5 L894.9 610.7 L895.3 606.1 L895.8 603.4 L896.2 613.6 L896.7 609.4 L897.1 611.4 L897.6 608.8 L898 602.9 L898.5 606.5 L898.9 618 L899.4 609.6 L899.8 611.3 L900.3 606.8 L900.7 610.6 L901.2 611.2 L901.6 611.8 L902.1 612.4 L902.5 610 L903 601.5 L903.4 591.6 L903.9 580.6 L904.3 570.9 L904.8 578.5 L905.2 573.4 L905.7 573.9 L906.1 571.5 L906.6 578 L907 569.5 L907.5 566.3 L907.9 567.8 L908.4 572.8 L908.8 565.3 L909.3 573.4 L909.7 567.6 L910.2 561.6 L910.6 566.5 L911.1 574.1 L911.5 564.4 L912 562.8 L912.4 569.7 L912.9 572.7 L913.3 571.8 L913.8 566.8 L914.2 568.6 L914.7 569 L915.1 572.1 L915.6 575.7 L916 567.3 L916.5 572.4 L916.9 566.3 L917.4 570.2 L917.8 565 L918.3 566.2 L918.7 571 L919.2 566.6 L919.6 573.7 L920.1 568.9 L920.5 571.6 L921 577.7 L921.4 569.9 L921.9 571.5 L922.3 574.9 L922.8 582.3 L923.2 566.3 L923.7 571.7 L924.1 569.9 L924.6 567.5 L925 572.2 L925.5 568.2 L925.9 571.4 L926.4 576.6 L926.8 564.8 L927.3 573.5 L927.7 574.2 L928.2 568.8 L928.6 574.1 L929.1 573.3 L929.5 570.5 L930 576.1 L930.4 566.6 L930.9 573.6 L931.3 570.3 L931.8 567.3 L932.2 570.6 L932.7 569.9 L933.1 574.3 L933.6 565.7 L934 570.5 L934.5 569.6 L934.9 576.9 L935.4 566.7 L935.8 574.5 L936.3 563.9 L936.7 571.4 L937.2 572.2 L937.6 571.1 L938.1 567 L938.5 562.8 L939 564.6 L939.4 575.6 L939.9 571.9 L940.3 568.3 L940.8 575.3 L941.2 569.6 L941.7 569.8 L942.1 567.9 L942.6 576.6 L943 582.9 L943.5 568.4 L943.9 572.9 L944.4 575.3 L944.8 579.3 L945.3 562.6 L945.7 572 L946.2 573.8 L946.6 565.9 L947.1 572.9 L947.5 572.1 L948 574 L948.4 569.1 L948.9 569.4 L949.3 567.6 L949.8 571.2 L950.2 568.8 L950.7 566 L951.1 561.4 L951.6 571.9 L952 569.3 L952.5 569 L952.9 563.8 L953.4 565.5 L953.8 573.5 L954.3 570.6 L954.7 563.2 L955.2 569.1 L955.6 569.8 L956.1 568.5 L956.5 565.7 L957 573.8 L957.4 571.2 L957.9 568.3 L958.3 563.1 L958.8 566.8 L959.2 568.6 L959.7 571.4 L960.1 566.4 L960.6 571.4 L961 567.4 L961.5 563.7 L961.9 558.8 L962.4 561.2 L962.8 561.1 L963.3 567.4 L963.7 570.6 L964.2 575.9 L964.6 572.1 L965.1 569.3 L965.5 583.7 L966 577.6 L966.4 579.5 L966.9 575.7 L967.3 571.8 L967.8 579.3 L968.2 578.4 L968.7 583.1 L969.1 581.4 L969.6 580.6 L970 582 L970.5 576.2 L970.9 575.5 L971.4 576.9 L971.8 572.4 L972.3 576.4 L972.7 575.6 L973.2 579.2 L973.6 576.5 L974.1 569.3 L974.5 576.3 L975 581.3 L975.4 561.4 L975.9 573 L976.3 575.7 L976.8 571 L977.2 574.3 L977.7 577 L978.1 572.4 L978.6 578.8 L979 584.4 L979.5 574.9 L979.9 579.2 L980.4 582 L980.8 576.1 L981.3 577.1 L981.7 576.5 L982.2 572 L982.6 575.2 L983.1 571.7 L983.5 565.6 L984 572.6 L984.4 575.2 L984.9 576.3 L985.3 572.3 L985.8 577.7 L986.2 582.4 L986.7 579.5 L987.1 583.5 L987.6 582.6 L988 576.3 L988.5 577.5 L988.9 572.7 L989.4 576.3 L989.8 570.6 L990.3 567.5 L990.7 569.4 L991.2 570.1 L991.6 572.8 L992.1 574.1 L992.5 569 L993 571.8 L993.4 576.6 L993.9 578 L994.3 576.7 L994.8 586.2 L995.2 580.6 L995.7 578.8 L996.1 594.3 L996.6 608.9 L997 617.1 L997.5 609.8 L997.9 617.5 L998.4 617.5 L998.8 626.2 L999.3 610.2 L999.7 624.2 L1000.2 617.4 L1000.6 622.1 L1001.1 617.2 L1001.5 619.2 L1002 623.2 L1002.4 619 L1002.9 623 L1003.3 618.5 L1003.8 617.2 L1004.2 618 L1004.7 616.9 L1005.1 618.5 L1005.6 624.6 L1006 614.3 L1006.5 612.3 L1006.9 619.1 L1007.4 626.1 L1007.8 623.5 L1008.3 624.2 L1008.7 623.2 L1009.2 614.4 L1009.6 617.2 L1010.1 605.2 L1010.5 612.9 L1011 617.2 L1011.4 607.7 L1011.9 605.6 L1012.3 608.7 L1012.8 614.9 L1013.2 618.8 L1013.7 624.7 L1014.1 620 L1014.6 607.9 L1015 604.6 L1015.5 614.7 L1015.9 618.3 L1016.4 607.3 L1016.8 611.7 L1017.3 611.9 L1017.7 613.9 L1018.2 612.9 L1018.6 615.9 L1019.1 618.6 L1019.5 615 L1020 625.8 L1020.4 623.8 L1020.9 611.9 L1021.3 612.3 L1021.8 619.1 L1022.2 624.7 L1022.7 617.6 L1023.1 621.2 L1023.6 615.2 L1024 620 L1024.5 613.5 L1024.9 618.6 L1025.4 617.2 L1025.8 616.7 L1026.3 620.1 L1026.7 618.3 L1027.2 610.9 L1027.6 616.4 L1028.1 605.2 L1028.5 615.6 L1029 622.3 L1029.4 614.4 L1029.9 615.5 L1030.3 614.9 L1030.8 619.3 L1031.2 615.3 L1031.7 621.1 L1032.1 618.4 L1032.6 618.6 L1033 619.8 L1033.5 618.1 L1033.9 610.2 L1034.4 624.8 L1034.8 615.9 L1035.3 607.4 L1035.7 617.8 L1036.2 612.8 L1036.6 614.1 L1037.1 616.4 L1037.5 610.2 L1038 603.5 L1038.4 614.1 L1038.9 615.8 L1039.3 619.2 L1039.8 612 L1040.2 613.9 L1040.7 616.5 L1041.1 613.5 L1041.6 613.6 L1042 615.6 L1042.5 610.3 L1042.9 620.8 L1043.4 610.5 L1043.8 614.4 L1044.3 612.9 L1044.7 611.3 L1045.2 616.4 L1045.6 618.4 L1046.1 620.2 L1046.5 616.7 L1047 613.1 L1047.4 619.1 L1047.9 610.3 L1048.3 617 L1048.8 619.6 L1049.2 620.4 L1049.7 614 L1050.1 612.8 L1050.6 625.1 L1051 615.6 L1051.5 610.3 L1051.9 611.4 L1052.4 615.9 L1052.8 620.1 L1053.3 614.6 L1053.7 619.1 L1054.2 614.7 L1054.6 615.4 L1055.1 617.1 L1055.5 611.2 L1056 613.6 L1056.4 610.4 L1056.9 609" fill="none" stroke="#f00" stroke-width="4.2" stroke-linejoin="round"/>
<rect x="147" y="43" width="911" height="696" fill="none" stroke="#000" stroke-width="4"/>
<path d="M149 197.2H160M149 351.8H160M149 506.4H160M149 661.0H160M149 119.9H153M149 274.5H153M149 429.1H153M149 583.7H153M602.5 737V725M374.8 737V732.5M830.2 737V732.5" stroke="#000" stroke-width="4" fill="none" stroke-linecap="round"/>
<rect x="146" y="44" width="79" height="79" fill="#d3d3d3" stroke="#000" stroke-width="2"/>
<text class="ss" transform="translate(167.7 115.1) scale(0.924 1)" font-size="72.5">a</text>
<g class="sb" font-size="34" text-anchor="end"><text x="112.0" y="64.8">8</text><text x="110.0" y="209.0">7</text><text x="110.0" y="359.9">6</text><text x="110.0" y="518.4">5</text><text x="110.0" y="673.0">4</text></g>
<g class="sb" font-size="30" text-anchor="middle"><text x="146.3" y="776">200</text><text x="602.0" y="776">300</text><text x="1058.4" y="776">400</text></g>
<text class="sb" x="614" y="836.5" font-size="31.6" text-anchor="middle">Irradiation time/sec</text>
<text class="sb" transform="translate(55.5 518.7) rotate(-90)" font-size="33.2">Photocurrent/10<tspan font-size="18" font-weight="normal" dy="-17.5">-7</tspan><tspan dy="17.5">A</tspan></text>
<path d="M669.2 103H739.9" stroke="#000" stroke-width="4" stroke-linecap="round"/>
<path d="M673 158H744.8" stroke="#f00" stroke-width="4" stroke-linecap="round"/>
<text class="sr" x="758" y="117.6" font-size="32.1">TiO<tspan font-size="20" dy="12">2</tspan></text>
<text class="sr" x="761.8" y="172" font-size="31.6">SiO<tspan font-size="20" dy="12">2</tspan><tspan dy="-12">/CNOs/TiO</tspan><tspan font-size="20" dy="12">2</tspan><tspan dy="-12">(3%)</tspan></text>
<text class="sb" x="330" y="346.3" font-size="34">on</text>
<text class="sb" x="429.5" y="355.3" font-size="34">off</text>
<path d="M343 364V452M441 367V455" stroke="#000" stroke-width="4"/>
<path d="M336.8 448L349.2 448L343 468.6ZM435.2 451.4L447 451.4L441 472.8Z" fill="#000"/>
</g>
<!-- Panel B -->
<defs><clipPath id="cb"><rect x="1406" y="50" width="1043" height="704"/></clipPath></defs>
<g clip-path="url(#cb)">
<g fill="#000"><rect x="2151.5" y="39.0" width="19" height="18"/><rect x="2021.4" y="152.4" width="19" height="18"/><rect x="1913.0" y="247.9" width="19" height="18"/><rect x="1822.9" y="328.9" width="19" height="18"/><rect x="1750.0" y="396.9" width="19" height="18"/><rect x="1692.0" y="452.9" width="19" height="18"/><rect x="1646.0" y="499.0" width="19" height="18"/><rect x="1607.0" y="538.1" width="19" height="18"/><rect x="1575.0" y="570.8" width="19" height="18"/><rect x="1549.0" y="598.9" width="19" height="18"/><rect x="1527.0" y="622.5" width="19" height="18"/><rect x="1509.4" y="641.8" width="19" height="18"/><rect x="1493.8" y="658.0" width="19" height="18"/><rect x="1481.1" y="671.9" width="19" height="18"/><rect x="1470.0" y="683.6" width="19" height="18"/><rect x="1462.5" y="693.4" width="19" height="18"/><rect x="1454.0" y="701.6" width="19" height="18"/><rect x="1448.5" y="708.5" width="19" height="18"/><rect x="1445.5" y="714.4" width="19" height="18"/><rect x="1440.5" y="719.3" width="19" height="18"/><rect x="1436.0" y="723.4" width="19" height="18"/><rect x="1433.3" y="726.8" width="19" height="18"/><rect x="1431.0" y="729.7" width="19" height="18"/><rect x="1429.2" y="732.2" width="19" height="18"/><rect x="1427.8" y="734.2" width="19" height="18"/><rect x="1426.5" y="735.9" width="19" height="18"/><rect x="1425.7" y="737.4" width="19" height="18"/><rect x="1425.1" y="738.6" width="19" height="18"/><rect x="1424.5" y="739.6" width="19" height="18"/><rect x="1424.0" y="740.5" width="19" height="18"/><rect x="1423.6" y="741.2" width="19" height="18"/><rect x="1423.3" y="741.8" width="19" height="18"/><rect x="1423.0" y="742.3" width="19" height="18"/><rect x="1422.8" y="742.7" width="19" height="18"/><rect x="1422.6" y="743.1" width="19" height="18"/><rect x="1422.4" y="743.4" width="19" height="18"/><rect x="1422.2" y="743.7" width="19" height="18"/><rect x="1422.1" y="743.9" width="19" height="18"/><rect x="1422.0" y="744.1" width="19" height="18"/><rect x="1421.9" y="744.2" width="19" height="18"/><rect x="1421.9" y="744.3" width="19" height="18"/><rect x="1421.8" y="744.4" width="19" height="18"/><rect x="1421.8" y="744.5" width="19" height="18"/><rect x="1421.7" y="744.6" width="19" height="18"/><rect x="1421.7" y="744.7" width="19" height="18"/><rect x="1421.7" y="744.7" width="19" height="18"/><rect x="1421.6" y="744.8" width="19" height="18"/><rect x="1421.6" y="744.8" width="19" height="18"/><rect x="1421.6" y="744.8" width="19" height="18"/><rect x="1421.6" y="744.9" width="19" height="18"/><rect x="1421.6" y="744.9" width="19" height="18"/><rect x="1421.6" y="744.9" width="19" height="18"/></g>
<g fill="#f00"><ellipse cx="2244.4" cy="118.9" rx="11" ry="10.3"/><ellipse cx="2103.0" cy="214.0" rx="11" ry="10.3"/><ellipse cx="1981.1" cy="296.4" rx="11" ry="10.3"/><ellipse cx="1878.8" cy="367.3" rx="11" ry="10.3"/><ellipse cx="1795.7" cy="427.5" rx="11" ry="10.3"/><ellipse cx="1729.5" cy="478.7" rx="11" ry="10.3"/><ellipse cx="1674.0" cy="522.3" rx="11" ry="10.3"/><ellipse cx="1629.5" cy="559.0" rx="11" ry="10.3"/><ellipse cx="1592.0" cy="588.9" rx="11" ry="10.3"/><ellipse cx="1561.0" cy="614.8" rx="11" ry="10.3"/><ellipse cx="1534.6" cy="636.9" rx="11" ry="10.3"/><ellipse cx="1513.0" cy="655.5" rx="11" ry="10.3"/><ellipse cx="1496.9" cy="671.0" rx="11" ry="10.3"/><ellipse cx="1484.0" cy="684.0" rx="11" ry="10.3"/><ellipse cx="1475.8" cy="694.9" rx="11" ry="10.3"/><ellipse cx="1468.3" cy="704.1" rx="11" ry="10.3"/><ellipse cx="1461.2" cy="711.9" rx="11" ry="10.3"/><ellipse cx="1455.1" cy="718.5" rx="11" ry="10.3"/><ellipse cx="1449.9" cy="724.0" rx="11" ry="10.3"/><ellipse cx="1444.6" cy="728.7" rx="11" ry="10.3"/><ellipse cx="1439.8" cy="732.7" rx="11" ry="10.3"/><ellipse cx="1436.0" cy="736.0" rx="11" ry="10.3"/><ellipse cx="1433.2" cy="738.8" rx="11" ry="10.3"/><ellipse cx="1430.8" cy="741.2" rx="11" ry="10.3"/><ellipse cx="1428.8" cy="743.2" rx="11" ry="10.3"/><ellipse cx="1427.1" cy="744.9" rx="11" ry="10.3"/><ellipse cx="1425.3" cy="746.3" rx="11" ry="10.3"/><ellipse cx="1422.6" cy="747.5" rx="11" ry="10.3"/><ellipse cx="1420.4" cy="748.5" rx="11" ry="10.3"/><ellipse cx="1418.4" cy="749.4" rx="11" ry="10.3"/><ellipse cx="1416.8" cy="750.1" rx="11" ry="10.3"/><ellipse cx="1415.6" cy="750.7" rx="11" ry="10.3"/><ellipse cx="1414.6" cy="751.2" rx="11" ry="10.3"/><ellipse cx="1413.7" cy="751.7" rx="11" ry="10.3"/><ellipse cx="1413.0" cy="752.0" rx="11" ry="10.3"/><ellipse cx="1412.3" cy="752.3" rx="11" ry="10.3"/><ellipse cx="1411.8" cy="752.6" rx="11" ry="10.3"/><ellipse cx="1411.4" cy="752.8" rx="11" ry="10.3"/><ellipse cx="1411.0" cy="753.0" rx="11" ry="10.3"/><ellipse cx="1410.7" cy="753.2" rx="11" ry="10.3"/><ellipse cx="1410.4" cy="753.3" rx="11" ry="10.3"/><ellipse cx="1410.2" cy="753.4" rx="11" ry="10.3"/><ellipse cx="1410.0" cy="753.5" rx="11" ry="10.3"/><ellipse cx="1409.9" cy="753.6" rx="11" ry="10.3"/><ellipse cx="1409.7" cy="753.6" rx="11" ry="10.3"/><ellipse cx="1409.6" cy="753.7" rx="11" ry="10.3"/><ellipse cx="1409.5" cy="753.7" rx="11" ry="10.3"/><ellipse cx="1409.4" cy="753.8" rx="11" ry="10.3"/><ellipse cx="1409.4" cy="753.8" rx="11" ry="10.3"/><ellipse cx="1409.3" cy="753.8" rx="11" ry="10.3"/><ellipse cx="1409.3" cy="753.9" rx="11" ry="10.3"/><ellipse cx="1409.2" cy="753.9" rx="11" ry="10.3"/></g>
</g>
<rect x="1406" y="50" width="1043" height="704" fill="none" stroke="#000" stroke-width="4"/>
<path d="M1404 754.0H1390.3M1404 578.0H1390.3M1404 402.0H1390.3M1404 226.0H1390.3M1404 50.0H1390.3M1404 666.0H1398.5M1404 490.0H1398.5M1404 314.0H1398.5M1404 138.0H1398.5M1406.0 756V769.6M1536.4 756V769.6M1666.8 756V769.6M1797.1 756V769.6M1927.5 756V769.6M2057.9 756V769.6M2188.2 756V769.6M2318.6 756V769.6M2449.0 756V769.6M1471.2 756V761.5M1601.6 756V761.5M1731.9 756V761.5M1862.3 756V761.5M1992.7 756V761.5M2123.1 756V761.5M2253.4 756V761.5M2383.8 756V761.5" stroke="#000" stroke-width="4" fill="none" stroke-linecap="round"/>
<rect x="1409" y="54" width="66" height="68" fill="#d3d3d3" stroke="#000" stroke-width="2"/>
<text class="sr" x="1422.8" y="110.5" font-size="62">b</text>
<g class="sr" font-size="32" text-anchor="end"><text x="1378" y="58.5">20,000</text><text x="1378" y="234.5">15,000</text><text x="1378" y="410.5">10,000</text><text x="1378" y="586.5">5,000</text><text x="1378" y="762.5">0</text></g>
<g class="ss" font-size="33" text-anchor="middle"><text x="1406.0" y="810">0</text><text x="1536.4" y="810">500</text><text x="1666.8" y="810">1000</text><text x="1797.1" y="810">1500</text><text x="1927.5" y="810">2000</text><text x="2057.9" y="810">2500</text><text x="2188.2" y="810">3000</text><text x="2318.6" y="810">3500</text><text x="2449.0" y="810">4000</text></g>
<rect x="1820.2" y="577.8" width="564.4" height="133" fill="#fff" stroke="#000" stroke-width="2"/>
<rect x="1893" y="600" width="19" height="19" fill="#000"/>
<ellipse cx="1903" cy="670" rx="11" ry="10.3" fill="#f00"/>
<g font-family="IPAGothic,'Liberation Sans',sans-serif" stroke="#000" stroke-width="0.4">
<text x="1969.5" y="626" font-size="39" letter-spacing="2.5">TiO<tspan font-size="23" dy="13">2</tspan></text>
<text x="1969.5" y="686" font-size="39" letter-spacing="2.5">SiO<tspan font-size="23" dy="13">2</tspan><tspan dy="-13">/CNOs/TiO</tspan><tspan font-size="23" dy="13">2</tspan><tspan dy="-13">(3%)</tspan></text>
</g>
<!-- x title Z'/W -->
<text x="1893.9" y="865.8" font-size="40" font-family="Liberation Serif,serif" font-weight="bold" font-style="italic">Z</text>
<text transform="translate(1917 839.9) scale(1 1.27) translate(0 26)" font-size="40" font-family="Liberation Serif,serif" font-weight="bold">'</text>
<text x="1928.5" y="865.8" font-size="40" font-family="Liberation Serif,serif">/</text>
<text transform="translate(1939.9 864.8) scale(0.566 1)" font-size="37.5" stroke="#000" stroke-width="4.2" font-family="Liberation Sans,sans-serif" font-weight="bold">W</text>
<!-- y title -Z''/W rotated -->
<g transform="translate(1259 486) rotate(-90)">
<text x="0" y="0" font-size="40" font-family="Liberation Serif,serif" font-weight="bold">-</text>
<text x="13" y="0" font-size="40" font-family="Liberation Serif,serif" font-weight="bold" font-style="italic">Z</text>
<text transform="translate(37.6 -26.2) scale(1 1.27) translate(0 26)" font-size="40" font-family="Liberation Serif,serif" font-weight="bold">'</text>
<text transform="translate(47.1 -26.2) scale(1 1.27) translate(0 26)" font-size="40" font-family="Liberation Serif,serif" font-weight="bold">'</text>
<text x="59.5" y="0" font-size="40" font-family="Liberation Serif,serif">/</text>
<text transform="translate(71.4 -2) scale(0.566 1)" font-size="37.5" stroke="#000" stroke-width="4.2" font-family="Liberation Sans,sans-serif" font-weight="bold">W</text>
</g>
</svg>
</body></html>
